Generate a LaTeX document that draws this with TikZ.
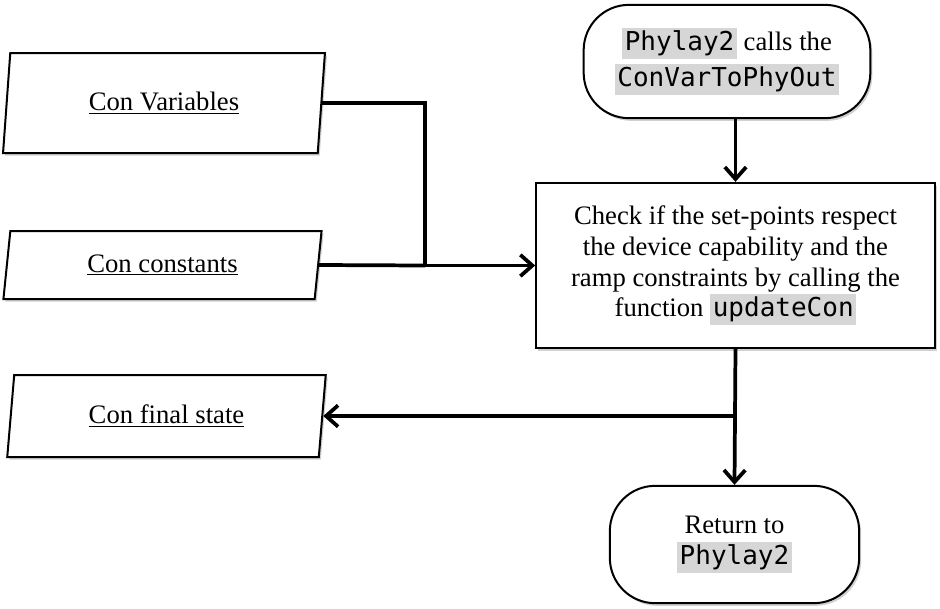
\documentclass[tikz,border=0pt]{standalone}
\usepackage{fontspec}
\setmainfont{Liberation Serif}
\newfontfamily\codefont{DejaVu Sans Mono}
\usepackage{tikz}
\usetikzlibrary{shapes.geometric, arrows.meta, shadows, calc}
\definecolor{codegray}{RGB}{214,214,214}
\newcommand{\codebox}[1]{{\setlength{\fboxsep}{2pt}\colorbox{codegray}{\codefont\fontsize{19.5}{23}\selectfont #1}}}
\tikzset{
  boxshadow/.style={drop shadow={shadow xshift=1.5pt, shadow yshift=-2pt,
                    opacity=0.3, fill=black!60}},
  datain/.style={trapezium, trapezium left angle=83, trapezium right angle=97,
                 trapezium stretches=true, draw=black, line width=1.5pt,
                 fill=white, boxshadow, align=center,
                 font=\fontsize{20}{23}\selectfont},
  terminal/.style={rectangle, rounded corners=34pt, draw=black,
                   line width=1.5pt, fill=white, boxshadow, align=center,
                   font=\fontsize{20}{23}\selectfont},
  process/.style={rectangle, draw=black, line width=1.5pt, fill=white,
                  boxshadow, align=center,
                  font=\fontsize{20}{23}\selectfont},
  link/.style={line width=2.8pt},
  arrow/.style={link, -{Straight Barb[length=9pt, width=16pt]}},
}
\begin{document}
\begin{tikzpicture}[x=0.75pt, y=-0.75pt]
  \useasboundingbox (0,0) rectangle (940,608);

  % Inputs and output data
  \node[datain, minimum width=241.5pt, minimum height=75pt] (vars)
    at (164,103) {\underline{Con Variables}};
  \node[datain, minimum width=239pt, minimum height=51pt] (consts)
    at (162.5,265) {\underline{Con constants}};
  \node[datain, minimum width=239pt, minimum height=61.5pt] (final)
    at (166.5,416) {\underline{Con final state}};

  % Start and end
  \node[terminal, minimum width=215pt, minimum height=85pt] (start)
    at (727,61.5) {\codebox{Phylay2} calls the\\[4pt] \codebox{ConVarToPhyOut}};
  \node[terminal, minimum width=187pt, minimum height=88pt] (ret)
    at (734.5,544.5) {Return to\\ \codebox{Phylay2}};

  % Check step
  \node[process, minimum width=299pt, minimum height=124pt] (check)
    at (735.5,265.5) {Check if the set-points respect\\
      the device capability and the\\
      ramp constraints by calling the\\
      function \codebox{updateCon}};

  % Connectors
  \coordinate (join) at ($(check.west)+(-110,0)$);
  \draw[link] (vars.east) -| (join);
  \draw[link] (consts.east) -- (join);
  \draw[arrow] (join) -- (check.west);
  \draw[arrow] (start.south -| check.north) -- (check.north);

  \coordinate (split) at (check.south |- final.east);
  \draw[arrow] (check.south) -- (ret.north);
  \draw[arrow] (split) -- (final.east);
\end{tikzpicture}
\end{document}
